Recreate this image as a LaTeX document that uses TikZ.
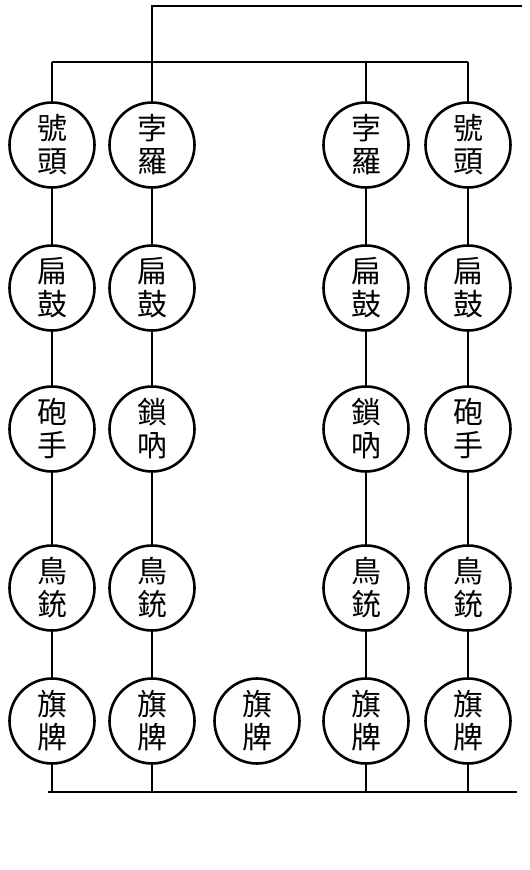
\documentclass[tikz,border=0pt]{standalone}
\usepackage{fontspec}
\newfontfamily\cjk{Noto Sans CJK TC}
\usetikzlibrary{positioning}

\begin{document}
\begin{tikzpicture}[x=1pt,y=-1pt,
    disc/.style={draw, circle, line width=2.6pt, minimum size=85pt, inner sep=0pt,
      align=center, font=\cjk\fontsize{30}{33}\selectfont},
    wire/.style={line width=2.8pt}]
  \useasboundingbox (0,0) rectangle (530,870);

  % bars
  \coordinate (topL) at (152,6);
  \coordinate (topR) at (522,6);
  \coordinate (midL) at (52,62);
  \coordinate (midR) at (468,62);
  \coordinate (botL) at (48,792);
  \coordinate (botR) at (517,792);

  % column a
  \node[disc] (a1) at (52,145) {號\\頭};
  \node[disc] (a2) at (52,288) {扁\\鼓};
  \node[disc] (a3) at (52,429) {砲\\手};
  \node[disc] (a4) at (52,588) {鳥\\銃};
  \node[disc] (a5) at (52,721) {旗\\牌};
  % column b
  \node[disc] (b1) at (152,145) {孛\\羅};
  \node[disc] (b2) at (152,288) {扁\\鼓};
  \node[disc] (b3) at (152,429) {鎖\\吶};
  \node[disc] (b4) at (152,588) {鳥\\銃};
  \node[disc] (b5) at (152,721) {旗\\牌};
  % middle
  \node[disc] (c5) at (257,721) {旗\\牌};
  % column d
  \node[disc] (d1) at (366,145) {孛\\羅};
  \node[disc] (d2) at (366,288) {扁\\鼓};
  \node[disc] (d3) at (366,429) {鎖\\吶};
  \node[disc] (d4) at (366,588) {鳥\\銃};
  \node[disc] (d5) at (366,721) {旗\\牌};
  % column e
  \node[disc] (e1) at (468,145) {號\\頭};
  \node[disc] (e2) at (468,288) {扁\\鼓};
  \node[disc] (e3) at (468,429) {砲\\手};
  \node[disc] (e4) at (468,588) {鳥\\銃};
  \node[disc] (e5) at (468,721) {旗\\牌};

  \draw[wire] (topR) -- (topL) -- (topL |- midL);
  \draw[wire] (midL) -- (midR);
  \draw[wire] (botL) -- (botR);

  % strings
  \foreach \c in {a,b,d,e}{
    \draw[wire] (\c1.north |- midL) -- (\c1.north);
    \foreach \r [count=\s from 2] in {1,...,4}{
      \draw[wire] (\c\r.south) -- (\c\s.north);
    }
    \draw[wire] (\c5.south) -- (\c5.south |- botL);
  }
\end{tikzpicture}
\end{document}
